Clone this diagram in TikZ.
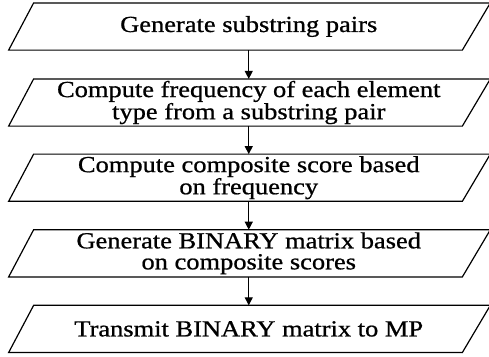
\documentclass[tikz,border=0pt]{standalone}
\usepackage{fontspec}
\setmainfont{Liberation Serif}[FakeStretch=1.15,FakeBold=0.8]
\usetikzlibrary{arrows.meta}
\tikzset{
  stepbox/.style={rectangle,minimum width=454pt,minimum height=46pt,inner sep=0pt,
    align=center,font=\fontsize{23}{21}\selectfont},
}
\begin{document}
\begin{tikzpicture}[x=1pt,y=1pt,>={Triangle[length=8pt,width=8pt]},line width=1.2pt]
  \useasboundingbox (0,0) rectangle (489,-356);
  \node[stepbox] (gen) at (248.75,-26.5) {Generate substring pairs};
  \node[stepbox] (freq) at (248.75,-102.5) {Compute frequency of each element\\type from a substring pair};
  \node[stepbox] (score) at (248.75,-177.7) {Compute composite score based\\on frequency};
  \node[stepbox] (bin) at (248.75,-253.3) {Generate BINARY matrix based\\on composite scores};
  \node[stepbox] (send) at (248.75,-328.9) {Transmit BINARY matrix to MP};
  % slanted outlines
  \foreach \n in {gen,freq,score,bin,send}
    \draw ([xshift=-12.5pt]\n.south west) -- ([xshift=12.5pt]\n.north west)
      -- ([xshift=14pt]\n.north east) -- ([xshift=-14pt]\n.south east) -- cycle;
  \draw[->] (gen) -- (freq);
  \draw[->] (freq) -- (score);
  \draw[->] (score) -- (bin);
  \draw[->] (bin) -- (send);
\end{tikzpicture}
\end{document}
